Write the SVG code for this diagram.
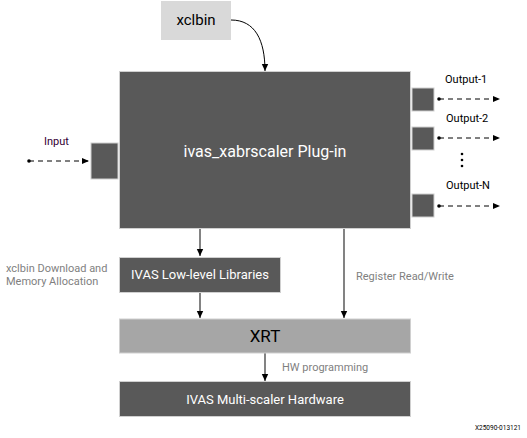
<svg xmlns="http://www.w3.org/2000/svg" width="527" height="438" viewBox="0 0 527 438">
<style>
text{font-family:Roboto,"Liberation Sans",sans-serif}
.dark{fill:#595959;stroke:#d0d0d0;stroke-width:1}
.lbl{font-size:11px;fill:#000}
.side{font-size:11px;fill:#7f7f7f}
.wt{fill:#ffffff;text-anchor:middle}
.ln{stroke:#000;stroke-width:1;fill:none}
.ln2{stroke:#404040;stroke-width:1.3;fill:none}
.dash{stroke:#000;stroke-width:1;stroke-dasharray:5,4;fill:none}
</style>
<defs>
<marker id="ah" markerWidth="8" markerHeight="8" refX="7" refY="4" orient="auto" markerUnits="userSpaceOnUse">
<path d="M0,0.8 L7,4 L0,7.2 Z" fill="#000"/>
</marker>
<marker id="ahs" markerWidth="8" markerHeight="8" refX="7" refY="3" orient="auto" markerUnits="userSpaceOnUse">
<path d="M0,0 L7,3 L0,6 Z" fill="#000"/>
</marker>
</defs>
<rect width="527" height="438" fill="#fff"/>
<g id="connectors">
<path class="ln" d="M231,20 C255,20 265,40 265,71" marker-end="url(#ah)"/>
<path class="dash" d="M29,161 L89,161" marker-end="url(#ahs)"/>
<circle cx="29" cy="161" r="1.8"/>
<path class="dash" d="M439,99 L500,99" marker-end="url(#ahs)"/>
<circle cx="439" cy="99" r="1.8"/>
<path class="dash" d="M439,138 L500,138" marker-end="url(#ahs)"/>
<circle cx="439" cy="138" r="1.8"/>
<path class="dash" d="M439,206 L500,206" marker-end="url(#ahs)"/>
<circle cx="439" cy="206" r="1.8"/>
<path class="ln2" d="M200,228 L200,256" marker-end="url(#ah)"/>
<path class="ln2" d="M200,293 L200,318" marker-end="url(#ah)"/>
<path class="ln2" d="M344,228 L344,318" marker-end="url(#ah)"/>
<path class="ln2" d="M265,353 L265,381" marker-end="url(#ah)"/>
</g>
<g id="xclbin">
<rect x="161" y="1" width="70" height="39" fill="#d9d9d9"/>
<text x="196" y="25" font-size="15" text-anchor="middle" fill="#000">xclbin</text>
</g>
<g id="plugin">
<rect class="dark" x="119.5" y="71.5" width="291" height="157"/>
<text class="wt" x="265" y="157" font-size="16" fill="#f0f0f0">ivas_xabrscaler Plug-in</text>
</g>
<g id="input-port">
<rect class="dark" x="91" y="143" width="27" height="36"/>
<text x="44" y="145" font-size="11" fill="#330033">Input</text>
</g>
<g id="output-ports">
<rect class="dark" x="412" y="88" width="22" height="23"/>
<rect class="dark" x="412" y="127" width="22" height="23"/>
<rect class="dark" x="412" y="194" width="22" height="23"/>
<text class="lbl" x="445" y="83">Output-1</text>
<text class="lbl" x="446" y="122">Output-2</text>
<text class="lbl" x="446" y="189">Output-N</text>
<circle cx="462" cy="154" r="1.3"/>
<circle cx="462" cy="160" r="1.3"/>
<circle cx="462" cy="166" r="1.3"/>
</g>
<g id="lowlevel">
<rect class="dark" x="119.5" y="257.5" width="161" height="35"/>
<text class="wt" x="200" y="279" font-size="13">IVAS Low-level Libraries</text>
</g>
<g id="xrt">
<rect x="119.5" y="319" width="291" height="34" fill="#a6a6a6" stroke="#d0d0d0"/>
<text x="265" y="342" font-size="17" text-anchor="middle" fill="#000">XRT</text>
</g>
<g id="hardware">
<rect class="dark" x="119.5" y="381.5" width="291" height="35"/>
<text class="wt" x="265" y="404" font-size="13">IVAS Multi-scaler Hardware</text>
</g>
<g id="labels">
<text class="side" x="6" y="272">xclbin Download and</text>
<text class="side" x="6" y="285">Memory Allocation</text>
<text class="side" x="356" y="280">Register Read/Write</text>
<text class="side" x="282" y="371">HW programming</text>
<text x="521" y="430" font-size="6.5" text-anchor="end" fill="#000">X25090-013121</text>
</g>
</svg>
